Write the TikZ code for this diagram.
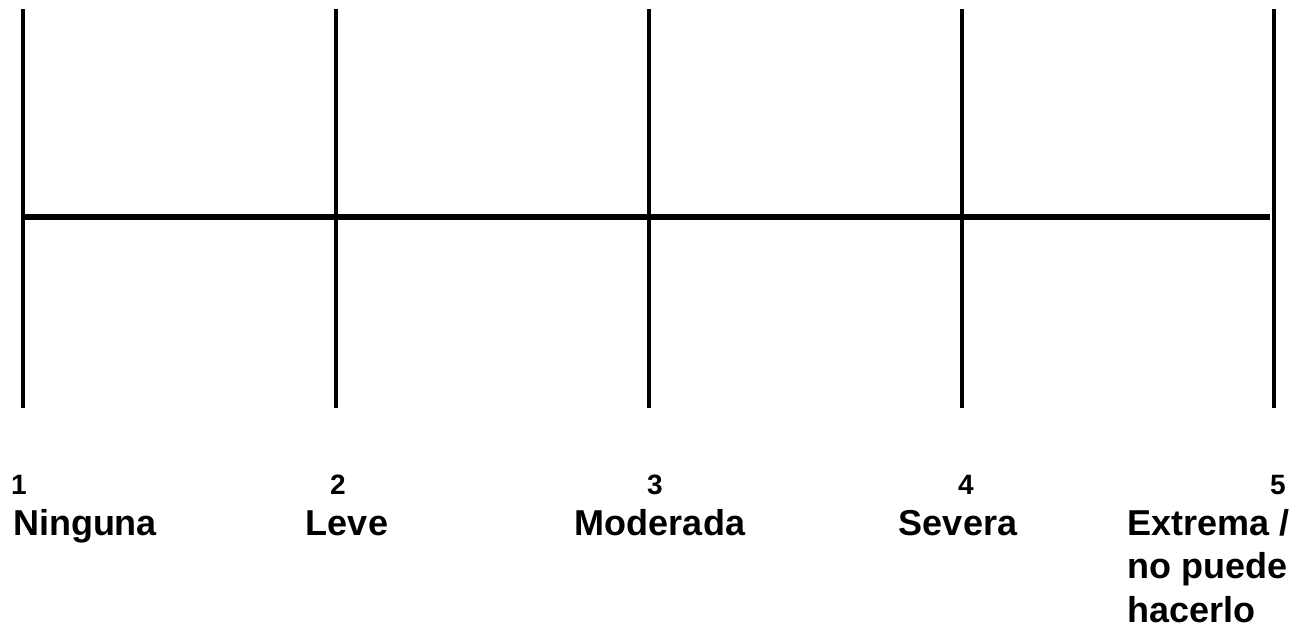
\documentclass[tikz,border=0pt]{standalone}
\usepackage{fontspec}
\setmainfont{Liberation Sans}
\tikzset{
  tick/.style={line width=4pt},
  axis/.style={line width=6pt},
  num/.style={inner sep=0pt, anchor=base, font=\fontsize{28}{32}\selectfont\bfseries},
  lab/.style={inner sep=0pt, anchor=base, font=\fontsize{36}{43.5}\selectfont\bfseries}
}
\begin{document}
\begin{tikzpicture}[x=1pt,y=-1pt]
    \useasboundingbox (0,0) rectangle (1313,625);
    \foreach \i/\x in {1/23,2/336,3/649,4/962,5/1274} {
        \coordinate (top\i) at (\x,9);
        \coordinate (bot\i) at (\x,408);
        \draw[tick] (top\i) -- (bot\i);
    }
    \coordinate (axisL) at (23,217);
    \coordinate (axisR) at (1270,217);
    \draw[axis] (axisL) -- (axisR);
    \node[num] (n1) at (19,494) {1};
    \node[num] (n2) at (338,494) {2};
    \node[num] (n3) at (655,494) {3};
    \node[num] (n4) at (966,494) {4};
    \node[num] (n5) at (1278,494) {5};
    \node[lab] (l1) at (85,535) {Ninguna};
    \node[lab] (l2) at (347,535) {Leve};
    \node[lab] (l3) at (660,535) {Moderada};
    \node[lab] (l4) at (958,535) {Severa};
    \node[lab, anchor=base west, align=left] (l5) at (1127,622) {Extrema /\\no puede\\hacerlo};
\end{tikzpicture}
\end{document}
